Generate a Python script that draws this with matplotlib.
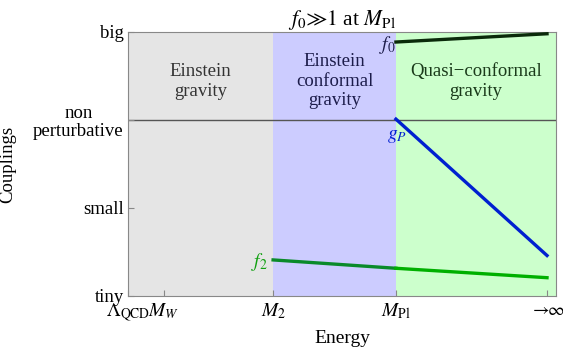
import matplotlib.pyplot as plt

plt.rcParams['font.family'] = ['Liberation Serif', 'DejaVu Serif']
plt.rcParams['mathtext.fontset'] = 'stix'

# energy scale positions (arbitrary log-like units)
x_ticks = [0.0, 0.84, 3.39, 6.26, 9.79]
x_labels = [r'$\Lambda_{\rm QCD}$', r'$M_W$', r'$M_2$', r'$M_{\rm Pl}$', r'$\to\!\!\infty$']
x_max = 10.0

y_ticks = [0, 1, 2, 3]
y_labels = ['tiny', 'small', 'non\nperturbative', 'big']

# regions: (start, end, colour, label, text colour)
regions = [
    (0.0, 3.39, '#e5e5e5', 'Einstein\ngravity', '#333333'),
    (3.39, 6.26, '#ccccff', 'Einstein\nconformal\ngravity', '#1c1c4a'),
    (6.26, x_max, '#ccffcc', 'Quasi\u2212conformal\ngravity', '#1a3a1a'),
]

# couplings
f0_x = [6.26, 9.79]
f0_y = [2.886, 2.98]
gP_x = [6.26, 9.79]
gP_y = [2.01, 0.46]
f2a_x = [3.39, 6.26]
f2a_y = [0.41, 0.315]
f2b_x = [6.26, 9.79]
f2b_y = [0.315, 0.208]

fig = plt.figure(figsize=(5.63, 3.55), dpi=100)
ax = fig.add_axes([128 / 563, 1 - 296 / 355, 428 / 563, 264 / 355])

for x0, x1, col, lab, tcol in regions:
    ax.axvspan(x0, x1, color=col, lw=0, zorder=0)
    ax.text((x0 + x1) / 2, 2.44, lab, ha='center', va='center', fontsize=13.5,
            color=tcol, linespacing=1.2)

ax.axhline(2, color='#555555', lw=1.0, zorder=1)

ax.plot(f0_x, f0_y, color='#0a2a0a', lw=2.4, zorder=3)
ax.plot(gP_x, gP_y, color='#0020d0', lw=2.4, zorder=3)
ax.plot(f2a_x, f2a_y, color='#0a8a2a', lw=2.4, zorder=3)
ax.plot(f2b_x, f2b_y, color='#00b000', lw=2.4, zorder=3)

ax.text(6.26, 2.85, r'$f_0$', ha='right', va='center', fontsize=14, color='#1c1c4a')
ax.text(6.28, 1.81, r'$g_P$', ha='center', va='center', fontsize=14, color='#0020d0')
ax.text(3.27, 0.386, r'$f_2$', ha='right', va='center', fontsize=14, color='#10a010')

ax.set_xlim(0, x_max)
ax.set_ylim(0, 3)
ax.set_xticks(x_ticks)
ax.set_xticklabels(x_labels, fontsize=14)
ax.get_xticklabels()[-1].set_fontsize(13)
ax.set_yticks(y_ticks)
ax.set_yticklabels(y_labels, fontsize=13.5, multialignment='center', linespacing=1.05)
ax.tick_params(direction='in', length=4, color='#888888', pad=3)
ax.tick_params(axis='x', pad=4)
for s in ax.spines.values():
    s.set_color('#888888')

ax.set_xlabel('Energy', fontsize=14)
ax.xaxis.set_label_coords(0.5, -0.13)
ax.set_ylabel('Couplings', fontsize=13.5)
ax.yaxis.set_label_coords(-0.262, 0.5)
ax.set_title(r'$f_0\!\gg\!1$ at $M_{\rm Pl}$', fontsize=15.5, pad=4)

fig.savefig('out.png', dpi=100)
